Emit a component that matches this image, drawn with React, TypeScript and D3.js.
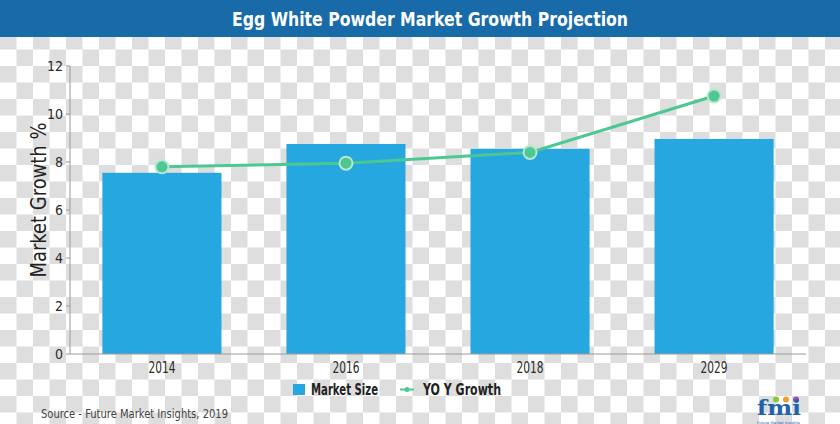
import React from "react";
import * as d3 from "d3";

const years = ["2014", "2016", "2018", "2029"];
const marketSize = [7.55, 8.75, 8.55, 8.96];
const yoyGrowth = [7.8, 7.95, 8.4, 10.75];
const yTicks = [0, 2, 4, 6, 8, 10, 12];

const W = 840;
const H = 424;
const plot = { left: 70, right: 806, top: 66, bottom: 354 };
const FONT = "'Liberation Sans Narrow', 'DejaVu Sans Condensed', 'Roboto Condensed', Roboto, sans-serif";

export default function App() {
  const x = d3.scaleBand().domain(years).range([plot.left, plot.right]).paddingInner(0.353).paddingOuter(0.176);
  const y = d3.scaleLinear().domain([0, 12]).range([plot.bottom, plot.top]);
  const line = d3
    .line<number>()
    .x((_, i) => (x(years[i]) as number) + x.bandwidth() / 2)
    .y((d) => y(d));

  const barColor = "#27a7e0";
  const lineColor = "#4cc892";

  return (
    <svg
      width={W}
      height={H}
      style={{ position: "absolute", left: 0, top: 0, display: "block" }}
      fontFamily={FONT}
    >
      <defs>
        <pattern id="checker" patternUnits="userSpaceOnUse" width={33} height={33}>
          <rect x={0} y={0} width={33} height={33} fill="#ffffff" />
          <rect x={0} y={0} width={16.5} height={16.5} fill="#dedede" />
          <rect x={16.5} y={16.5} width={16.5} height={16.5} fill="#dedede" />
        </pattern>
      </defs>
      <rect x={0} y={0} width={W} height={H} fill="url(#checker)" />

      {/* title bar */}
      <rect x={0} y={0} width={W} height={37} fill="#186aa9" />
      <text
        x={430}
        y={26}
        textAnchor="middle"
        fill="#ffffff"
        fontSize={19}
        fontWeight="bold"
        textLength={396}
        lengthAdjust="spacingAndGlyphs"
      >
        Egg White Powder Market Growth Projection
      </text>

      {/* bars */}
      {marketSize.map((v, i) => (
        <rect
          key={years[i]}
          x={x(years[i]) as number}
          y={y(v)}
          width={x.bandwidth()}
          height={plot.bottom - y(v)}
          fill={barColor}
        />
      ))}

      {/* y axis */}
      <line x1={plot.left} x2={plot.left} y1={plot.top} y2={plot.bottom} stroke="#9a9a9a" strokeWidth={1} />
      {yTicks.map((t) => (
        <g key={t}>
          <line x1={plot.left - 4} x2={plot.left} y1={y(t)} y2={y(t)} stroke="#9a9a9a" strokeWidth={1} />
          <text x={plot.left - 7} y={y(t) + 5} textAnchor="end" fontSize={14} fill="#2a2a2a">
            {t}
          </text>
        </g>
      ))}
      {/* x axis */}
      <line x1={plot.left} x2={plot.right} y1={plot.bottom} y2={plot.bottom} stroke="#9a9a9a" strokeWidth={1} />
      {years.map((yr) => (
        <text
          key={yr}
          x={(x(yr) as number) + x.bandwidth() / 2}
          y={372.5}
          textAnchor="middle"
          fontSize={15}
          fill="#2a2a2a"
          textLength={27}
          lengthAdjust="spacingAndGlyphs"
        >
          {yr}
        </text>
      ))}

      {/* y axis title */}
      <text
        transform="translate(46,200) rotate(-90)"
        textAnchor="middle"
        fontSize={22}
        fill="#222222"
        textLength={155}
        lengthAdjust="spacingAndGlyphs"
      >
        Market Growth %
      </text>

      {/* line */}
      <path d={line(yoyGrowth) || ""} fill="none" stroke={lineColor} strokeWidth={3} />
      {yoyGrowth.map((v, i) => (
        <circle
          key={years[i]}
          cx={(x(years[i]) as number) + x.bandwidth() / 2}
          cy={y(v)}
          r={6.5}
          fill={lineColor}
          stroke="#b8e6cf"
          strokeWidth={2}
        />
      ))}

      {/* legend */}
      <rect x={293} y={384} width={12} height={11} fill={barColor} />
      <text x={311} y={395} fontSize={15} fontWeight="bold" fill="#222222" textLength={67} lengthAdjust="spacingAndGlyphs">
        Market Size
      </text>
      <line x1={400} x2={414} y1={389.5} y2={389.5} stroke={lineColor} strokeWidth={2} />
      <circle cx={407} cy={389.5} r={2.5} fill={lineColor} />
      <text x={423} y={395} fontSize={15} fontWeight="bold" fill="#222222" textLength={78} lengthAdjust="spacingAndGlyphs">
        YO Y Growth
      </text>

      {/* source */}
      <text x={41} y={418} fontSize={13} fill="#444444" textLength={187} lengthAdjust="spacingAndGlyphs">
        Source - Future Market Insights, 2019
      </text>

      {/* logo */}
      <g>
        <circle cx={776} cy={399.5} r={3} fill="#8cc63f" />
        <circle cx={786} cy={399.5} r={3} fill="#f39a2b" />
        <circle cx={796} cy={399.5} r={3} fill="#9b4fb0" />
        <text x={757} y={415} fontSize={20} fontWeight="bold" fill="#1f63ad" fontFamily="'DejaVu Serif', serif" textLength={44} lengthAdjust="spacingAndGlyphs">
          fmi
        </text>
        <text x={757} y={423.5} fontSize={3.5} fill="#1f63ad" textLength={43} lengthAdjust="spacingAndGlyphs">
          Future Market Insights
        </text>
      </g>
    </svg>
  );
}
